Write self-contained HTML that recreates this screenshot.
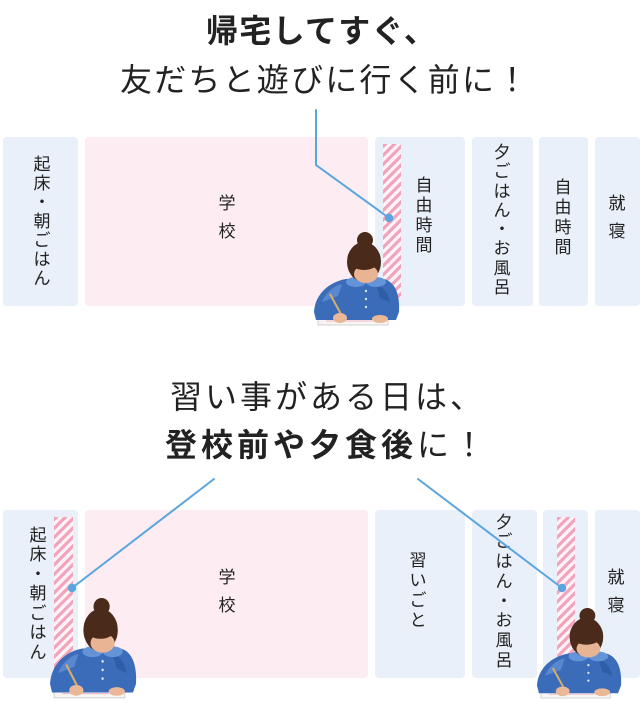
<!DOCTYPE html>
<html lang="ja">
<head>
<meta charset="utf-8">
<style>
  html,body{margin:0;padding:0;background:#fff;}
  body{width:642px;height:728px;position:relative;overflow:hidden;
       font-family:"Liberation Sans","Noto Sans CJK JP",sans-serif;color:#222;}
  .t{position:absolute;white-space:nowrap;font-size:32px;line-height:32px;font-weight:400;}
  .b{font-weight:700;}
  .box{position:absolute;background:#e9f0f9;border-radius:4px;}
  .pk{background:#fdedf3;}
  .st{position:absolute;background:repeating-linear-gradient(135deg,#f2a4bd 0px,#f2a4bd 3.2px,#fdf2f6 3.2px,#fdf2f6 6.5px);}
  .v{position:absolute;width:30px;text-align:center;font-size:17px;white-space:nowrap;}
  svg{position:absolute;overflow:visible;}
</style>
</head>
<body>

<!-- titles top -->
<div class="t b" style="left:206px;top:15px;letter-spacing:1.3px;">帰宅してすぐ、</div>
<div class="t" style="left:120px;top:64px;letter-spacing:2.2px;">友だちと遊びに行く前に！</div>

<!-- top boxes -->
<div class="box" style="left:3px;top:137px;width:75px;height:169px;"></div>
<div class="box pk" style="left:85px;top:137px;width:283px;height:169px;"></div>
<div class="box" style="left:375px;top:137px;width:90px;height:169px;"></div>
<div class="box" style="left:472px;top:137px;width:61px;height:169px;"></div>
<div class="box" style="left:539px;top:137px;width:49px;height:169px;"></div>
<div class="box" style="left:595px;top:137px;width:45px;height:169px;"></div>
<div class="st" style="left:383px;top:144px;width:18px;height:155px;"></div>

<div class="v" style="left:27px;top:155px;line-height:19px;">起<br>床<br>・<br>朝<br>ご<br>は<br>ん</div>
<div class="v" style="left:212px;top:190px;line-height:28px;">学<br>校</div>
<div class="v" style="left:409px;top:175.5px;line-height:20px;">自<br>由<br>時<br>間</div>
<div class="v" style="left:487px;top:143px;line-height:19.3px;">夕<br>ご<br>は<br>ん<br>・<br>お<br>風<br>呂</div>
<div class="v" style="left:548px;top:177.5px;line-height:20px;">自<br>由<br>時<br>間</div>
<div class="v" style="left:602px;top:190px;line-height:28px;">就<br>寝</div>

<!-- titles bottom -->
<div class="t" style="left:170px;top:381px;letter-spacing:3px;">習い事がある日は、</div>
<div class="t" style="left:165px;top:429px;letter-spacing:4px;"><span class="b">登校前や夕食後</span>に！</div>

<!-- bottom boxes -->
<div class="box" style="left:3px;top:510px;width:75px;height:168px;"></div>
<div class="box pk" style="left:85px;top:510px;width:283px;height:168px;"></div>
<div class="box" style="left:375px;top:510px;width:90px;height:168px;"></div>
<div class="box" style="left:472px;top:510px;width:65px;height:168px;"></div>
<div class="box" style="left:543px;top:510px;width:45px;height:168px;"></div>
<div class="box" style="left:595px;top:510px;width:45px;height:168px;"></div>
<div class="st" style="left:54px;top:517px;width:19px;height:154px;"></div>
<div class="st" style="left:557px;top:517px;width:18px;height:154px;"></div>

<div class="v" style="left:23px;top:525.8px;line-height:19.5px;">起<br>床<br>・<br>朝<br>ご<br>は<br>ん</div>
<div class="v" style="left:212px;top:563.5px;line-height:28px;">学<br>校</div>
<div class="v" style="left:403px;top:550.5px;line-height:20px;">習<br>い<br>ご<br>と</div>
<div class="v" style="left:489px;top:512.7px;line-height:19.7px;">夕<br>ご<br>は<br>ん<br>・<br>お<br>風<br>呂</div>
<div class="v" style="left:601px;top:563.5px;line-height:28px;">就<br>寝</div>

<!-- connector lines -->
<svg style="left:0;top:0;" width="642" height="728" viewBox="0 0 642 728">
  <g stroke="#5aa5de" stroke-width="2" fill="none" stroke-linecap="round">
    <polyline points="316,110 316,165 389,218"/>
    <line x1="214" y1="479" x2="72" y2="588"/>
    <line x1="418" y1="479" x2="562" y2="588"/>
  </g>
  <g fill="#5aa5de">
    <circle cx="389" cy="218" r="4.2"/>
    <circle cx="72" cy="588" r="4.2"/>
    <circle cx="562" cy="588" r="4.2"/>
  </g>
</svg>

<!-- girls -->
<svg style="left:312px;top:232px;" width="88" height="95" viewBox="0 0 88 95" preserveAspectRatio="none">
  <g>
    <rect x="6" y="86" width="70" height="7" fill="#f7f5f3" stroke="#c9c9c9" stroke-width="0.8"/>
    <line x1="14" y1="89" x2="60" y2="89" stroke="#f0b9c8" stroke-width="1"/>
    <path d="M2 80 C3 62 17 50 34 47 L72 47 C83 50 88 62 87 80 L84 88 L4 88 Z" fill="#3b6cb9"/>
    <path d="M10 70 C14 60 22 54 30 52 L26 64 Z" fill="#5a88cf"/>
    <path d="M78 70 C76 60 70 54 64 52 L68 66 Z" fill="#2f5ea8"/>
    <ellipse cx="44" cy="50" rx="10" ry="5" fill="#6494d8"/>
    <ellipse cx="64" cy="50" rx="10" ry="5" fill="#6494d8"/>
    <circle cx="54" cy="59" r="1.2" fill="#d6e4f6"/>
    <circle cx="54" cy="67" r="1.2" fill="#d6e4f6"/>
    <circle cx="54" cy="75" r="1.2" fill="#d6e4f6"/>
    <ellipse cx="52" cy="30" rx="17" ry="20" fill="#4a2a1a"/>
    <ellipse cx="54" cy="42" rx="12" ry="9" fill="#e8b493"/>
    <ellipse cx="52" cy="26" rx="16.5" ry="12" fill="#4a2a1a"/>
    <circle cx="53" cy="8" r="8" fill="#4a2a1a"/>
    <line x1="18" y1="62" x2="30" y2="84" stroke="#d8ad6a" stroke-width="2"/>
    <ellipse cx="28" cy="86" rx="7" ry="5" fill="#eab896"/>
    <ellipse cx="68" cy="87" rx="8" ry="4" fill="#eab896"/>
  </g>
</svg>

<svg style="left:48px;top:598px;" width="89" height="102" viewBox="0 0 88 95" preserveAspectRatio="none">
  <g>
    <rect x="6" y="86" width="70" height="7" fill="#f7f5f3" stroke="#c9c9c9" stroke-width="0.8"/>
    <line x1="14" y1="89" x2="60" y2="89" stroke="#f0b9c8" stroke-width="1"/>
    <path d="M2 80 C3 62 17 50 34 47 L72 47 C83 50 88 62 87 80 L84 88 L4 88 Z" fill="#3b6cb9"/>
    <path d="M10 70 C14 60 22 54 30 52 L26 64 Z" fill="#5a88cf"/>
    <path d="M78 70 C76 60 70 54 64 52 L68 66 Z" fill="#2f5ea8"/>
    <ellipse cx="44" cy="50" rx="10" ry="5" fill="#6494d8"/>
    <ellipse cx="64" cy="50" rx="10" ry="5" fill="#6494d8"/>
    <circle cx="54" cy="59" r="1.2" fill="#d6e4f6"/>
    <circle cx="54" cy="67" r="1.2" fill="#d6e4f6"/>
    <circle cx="54" cy="75" r="1.2" fill="#d6e4f6"/>
    <ellipse cx="52" cy="30" rx="17" ry="20" fill="#4a2a1a"/>
    <ellipse cx="54" cy="42" rx="12" ry="9" fill="#e8b493"/>
    <ellipse cx="52" cy="26" rx="16.5" ry="12" fill="#4a2a1a"/>
    <circle cx="53" cy="8" r="8" fill="#4a2a1a"/>
    <line x1="18" y1="62" x2="30" y2="84" stroke="#d8ad6a" stroke-width="2"/>
    <ellipse cx="28" cy="86" rx="7" ry="5" fill="#eab896"/>
    <ellipse cx="68" cy="87" rx="8" ry="4" fill="#eab896"/>
  </g>
</svg>

<svg style="left:535px;top:608px;" width="87" height="92" viewBox="0 0 88 95" preserveAspectRatio="none">
  <g>
    <rect x="6" y="86" width="70" height="7" fill="#f7f5f3" stroke="#c9c9c9" stroke-width="0.8"/>
    <line x1="14" y1="89" x2="60" y2="89" stroke="#f0b9c8" stroke-width="1"/>
    <path d="M2 80 C3 62 17 50 34 47 L72 47 C83 50 88 62 87 80 L84 88 L4 88 Z" fill="#3b6cb9"/>
    <path d="M10 70 C14 60 22 54 30 52 L26 64 Z" fill="#5a88cf"/>
    <path d="M78 70 C76 60 70 54 64 52 L68 66 Z" fill="#2f5ea8"/>
    <ellipse cx="44" cy="50" rx="10" ry="5" fill="#6494d8"/>
    <ellipse cx="64" cy="50" rx="10" ry="5" fill="#6494d8"/>
    <circle cx="54" cy="59" r="1.2" fill="#d6e4f6"/>
    <circle cx="54" cy="67" r="1.2" fill="#d6e4f6"/>
    <circle cx="54" cy="75" r="1.2" fill="#d6e4f6"/>
    <ellipse cx="52" cy="30" rx="17" ry="20" fill="#4a2a1a"/>
    <ellipse cx="54" cy="42" rx="12" ry="9" fill="#e8b493"/>
    <ellipse cx="52" cy="26" rx="16.5" ry="12" fill="#4a2a1a"/>
    <circle cx="53" cy="8" r="8" fill="#4a2a1a"/>
    <line x1="18" y1="62" x2="30" y2="84" stroke="#d8ad6a" stroke-width="2"/>
    <ellipse cx="28" cy="86" rx="7" ry="5" fill="#eab896"/>
    <ellipse cx="68" cy="87" rx="8" ry="4" fill="#eab896"/>
  </g>
</svg>

</body>
</html>
